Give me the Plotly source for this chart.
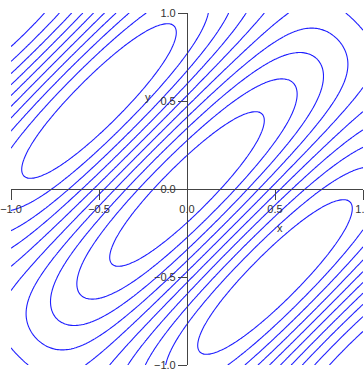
import numpy as np
import plotly.graph_objects as go

# Domain of the surface and its sampling
x_range = [-1.0, 1.0]
y_range = [-1.0, 1.0]
samples = 241

# Ten evenly spaced contour levels strictly inside [-1, 1]
level_count = 10
level_min, level_max = -1.0, 1.0

# Axis ticks
tick_vals = [-1.0, -0.5, 0.0, 0.5, 1.0]
tick_text = ["\u22121.0", "\u22120.5", "0.0", "0.5", "1.0"]


def surface(x, y):
    # cos(pi (x - y)) across the diagonal, damped along x + y
    return np.cos(np.pi * (x - y)) * (1.0 - (x + y) ** 2 / 4.0)


xs = np.linspace(x_range[0], x_range[1], samples)
ys = np.linspace(y_range[0], y_range[1], samples)
X, Y = np.meshgrid(xs, ys)
Z = surface(X, Y)

step = (level_max - level_min) / (level_count + 1)

fig = go.Figure(
    go.Contour(
        x=xs,
        y=ys,
        z=Z,
        contours=dict(
            coloring="lines",
            start=level_min + step,
            end=level_max - step + 1e-9,
            size=step,
        ),
        colorscale=[[0, "#1f1fff"], [1, "#1f1fff"]],
        line=dict(width=1.1),
        showscale=False,
        hoverinfo="skip",
    )
)

axis_font = dict(family="Liberation Sans, Arial, sans-serif", size=11, color="#333333")

fig.update_layout(
    width=364,
    height=371,
    margin=dict(l=11, r=1, t=13, b=6, autoexpand=False),
    paper_bgcolor="white",
    plot_bgcolor="white",
    showlegend=False,
    xaxis=dict(
        range=x_range,
        showgrid=False,
        zeroline=False,
        showline=True,
        linecolor="#444444",
        linewidth=1.2,
        anchor="free",
        position=0.5,
        automargin=False,
        ticks="outside",
        ticklen=10,
        tickwidth=1.2,
        tickcolor="#444444",
        tickvals=tick_vals,
        ticktext=tick_text,
        tickfont=axis_font,
        ticklabeloverflow="allow",
    ),
    yaxis=dict(
        range=y_range,
        showgrid=False,
        zeroline=False,
        showline=True,
        linecolor="#444444",
        linewidth=1.2,
        anchor="free",
        position=0.5,
        automargin=False,
        ticks="outside",
        ticklen=9,
        tickwidth=1.2,
        tickcolor="#444444",
        tickvals=tick_vals,
        ticktext=tick_text,
        tickfont=axis_font,
        ticklabeloverflow="allow",
    ),
    annotations=[
        dict(x=0.53, y=-0.22, xref="x", yref="y", text="x", showarrow=False,
             font=axis_font),
        dict(x=-0.22, y=0.52, xref="x", yref="y", text="y", showarrow=False,
             font=axis_font),
    ],
)

fig.write_html("out.html")
